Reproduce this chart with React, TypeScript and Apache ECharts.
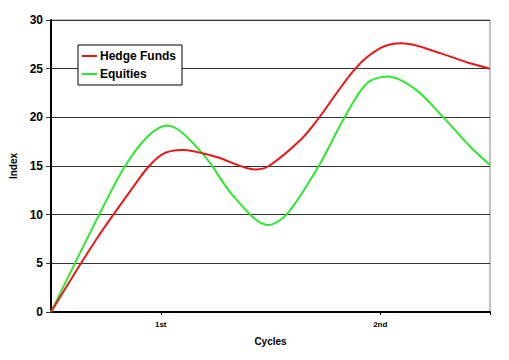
import React, { useEffect, useRef } from "react";
import * as echarts from "echarts";

// Points (x in cycle units: 1 = "1st", 3 = "2nd")
const hedgeX = [0, 0.409, 0.727, 0.894, 1.03, 1.197, 1.5, 1.864, 1.985, 2.273, 2.425, 2.773, 3.0, 3.197, 3.545, 3.818, 4];
const hedgeFunds = [0, 7.4, 12.5, 15.0, 16.3, 16.65, 15.95, 14.65, 15.0, 17.67, 19.7, 25.0, 27.1, 27.6, 26.6, 25.55, 25.0];
const equityX = [0, 0.439, 0.675, 0.879, 1.055, 1.379, 1.666, 1.979, 2.145, 2.439, 2.675, 2.879, 3.066, 3.318, 3.575, 3.818, 4];
const equities = [0, 10.0, 15.0, 18.0, 19.15, 16.3, 11.85, 8.94, 10.0, 15.0, 20.0, 23.5, 24.2, 22.9, 20.0, 17.0, 15.1];
const xTickLabels: Record<number, string> = { 1: "1st", 3: "2nd" };
const yTicks = [0, 5, 10, 15, 20, 25, 30];

export default function App() {
  const ref = useRef<HTMLDivElement>(null);
  useEffect(() => {
    if (!ref.current) return;
    const chart = echarts.init(ref.current, null, { renderer: "svg" });
    const font = "Liberation Sans, Arial, sans-serif";
    chart.setOption({
      animation: false,
      backgroundColor: "#fff",
      textStyle: { fontFamily: font },
      grid: { left: 50, right: 19, top: 20, bottom: 48, show: true, borderColor: "#888", borderWidth: 1 },
      legend: {
        left: 78,
        top: 45,
        orient: "vertical",
        backgroundColor: "#fff",
        borderColor: "#000",
        borderWidth: 1,
        padding: [5, 6, 5, 4],
        itemGap: 6,
        itemWidth: 15,
        itemHeight: 2,
        icon: "rect",
        textStyle: { fontFamily: font, fontWeight: "bold", fontSize: 12, color: "#000", padding: [0, 0, 0, -2] },
        data: ["Hedge Funds", "Equities"],
      },
      xAxis: {
        type: "value",
        min: 0,
        max: 4,
        interval: 1,
        name: "Cycles",
        nameLocation: "middle",
        nameGap: 24,
        nameTextStyle: { fontFamily: font, fontWeight: "bold", fontSize: 10, color: "#000" },
        axisLine: { lineStyle: { color: "#000", width: 2 } },
        axisTick: { show: true, length: 3, lineStyle: { color: "#000" }, customValues: [1, 3, 4] },
        axisLabel: {
          customValues: [1, 3],
          formatter: (v: number) => xTickLabels[v] ?? "",
          fontFamily: font,
          fontWeight: "bold",
          fontSize: 8,
          color: "#000",
          margin: 8,
        },
        splitLine: { show: false },
      },
      yAxis: {
        type: "value",
        min: yTicks[0],
        max: yTicks[yTicks.length - 1],
        interval: 5,
        name: "Index",
        nameLocation: "middle",
        nameGap: 33,
        nameRotate: 90,
        nameTextStyle: { fontFamily: font, fontWeight: "bold", fontSize: 10, color: "#000" },
        axisLine: { show: true, lineStyle: { color: "#000", width: 2 } },
        axisTick: { show: true, length: 5, lineStyle: { color: "#333" } },
        axisLabel: { fontFamily: font, fontWeight: "bold", fontSize: 12, color: "#000", margin: 8 },
        splitLine: { show: true, lineStyle: { color: "#333", width: 1 } },
      },
      series: [
        {
          name: "Hedge Funds",
          type: "line",
          data: hedgeX.map((x, i) => [x, hedgeFunds[i]]),
          smooth: 0.33,
          symbol: "none",
          lineStyle: { color: "#e81818", width: 2 },
          itemStyle: { color: "#e81818" },
          z: 3,
        },
        {
          name: "Equities",
          type: "line",
          data: equityX.map((x, i) => [x, equities[i]]),
          smooth: 0.33,
          symbol: "none",
          lineStyle: { color: "#2ee82e", width: 2 },
          itemStyle: { color: "#2ee82e" },
          z: 2,
        },
      ],
    });
    return () => chart.dispose();
  }, []);
  return <div ref={ref} style={{ width: 509, height: 360, position: "absolute", left: 0, top: 0 }} />;
}
